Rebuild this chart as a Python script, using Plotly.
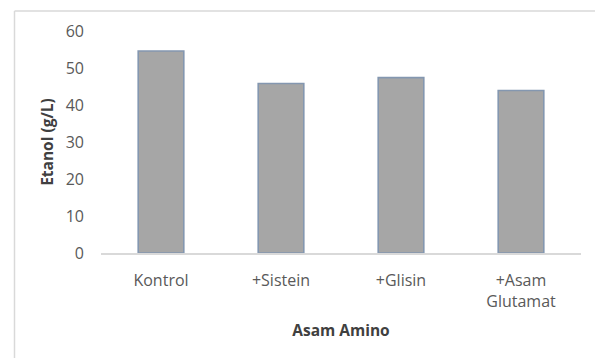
import plotly.graph_objects as go

categories = ["Kontrol", "+Sistein", "+Glisin", "+Asam<br>Glutamat"]
etanol = [54.6, 45.8, 47.4, 43.9]
y_ticks = [0, 10, 20, 30, 40, 50, 60]

W, H = 595, 358
ML, MR, MT, MB = 101, 14, 31, 104.5
PW, PH = W - ML - MR, H - MT - MB

fig = go.Figure()
fig.add_trace(go.Bar(
    x=categories, y=etanol, width=0.38,
    marker=dict(color="#a6a6a6", line=dict(color="#8497b0", width=1.6)),
))

def px_x(p):
    return (p - ML) / PW

def px_y(p):
    return (H - MB - p) / PH

# outer (cropped) chart border: left and top
fig.add_shape(type="line", xref="paper", yref="paper",
              x0=px_x(14.5), x1=px_x(600), y0=px_y(11), y1=px_y(11),
              line=dict(color="#d9d9d9", width=1.5))
fig.add_shape(type="line", xref="paper", yref="paper",
              x0=px_x(14.5), x1=px_x(14.5), y0=px_y(11), y1=px_y(365),
              line=dict(color="#d9d9d9", width=1.5))

font_family = "'Open Sans', sans-serif"
fig.update_layout(
    width=W, height=H,
    margin=dict(l=ML, r=MR, t=MT, b=MB),
    paper_bgcolor="white", plot_bgcolor="white",
    showlegend=False,
    font=dict(family=font_family, size=15, color="#595959"),
    xaxis=dict(
        showline=True, linecolor="#d9d9d9", linewidth=1.5,
        showgrid=False, ticks="", ticklabelstandoff=12,
        tickfont=dict(size=16, color="#595959"),
        title=dict(text="<b>Asam Amino</b>", font=dict(size=15.5, color="#404040"), standoff=14),
    ),
    yaxis=dict(
        range=[0, 60], tickvals=y_ticks, showgrid=False, zeroline=False,
        showline=False, ticks="", ticklabelstandoff=16,
        tickfont=dict(size=16, color="#595959"),
        title=dict(text="<b>Etanol (g/L)</b>", font=dict(size=15.5, color="#404040"), standoff=8),
    ),
)

fig.write_html("out.html")
